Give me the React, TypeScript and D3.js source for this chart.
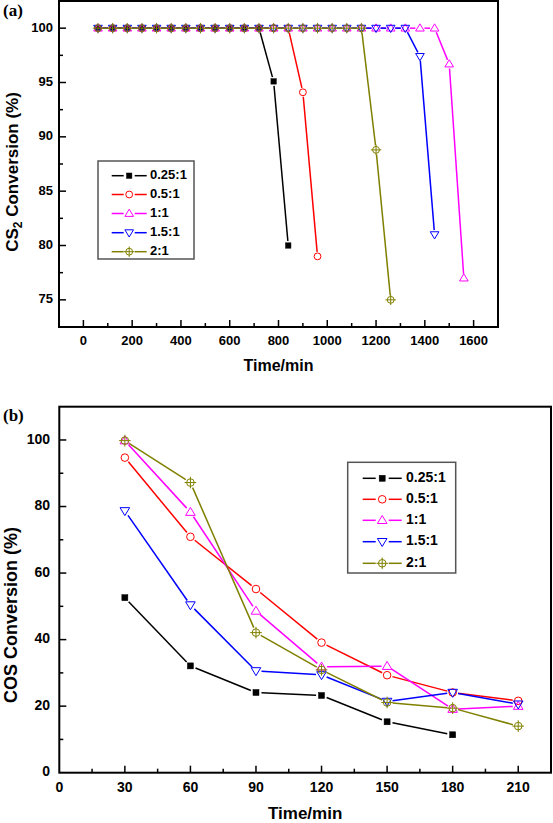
import React from "react";
import * as d3 from "d3";

// ---------- Data ----------
const seriesNames = ["0.25:1", "0.5:1", "1:1", "1.5:1", "2:1"];
const seriesColors = ["#000000", "#ff0000", "#ff00ff", "#0000ff", "#808000"];
const seriesMarkers = ["square", "circle", "triUp", "triDown", "circleCross"];

// (a) CS2 conversion vs time
const cs2Time = [60, 120, 180, 240, 300, 360, 420, 480, 540, 600, 660, 720, 780, 840, 900, 960, 1020, 1080, 1140, 1200, 1260, 1320, 1380, 1440, 1500, 1560];
const cs2_025 = [100, 100, 100, 100, 100, 100, 100, 100, 100, 100, 100, 100, 95.1, 80];
const cs2_05 = [100, 100, 100, 100, 100, 100, 100, 100, 100, 100, 100, 100, 100, 100, 94.1, 79];
const cs2_1 = [100, 100, 100, 100, 100, 100, 100, 100, 100, 100, 100, 100, 100, 100, 100, 100, 100, 100, 100, 100, 100, 100, 100, 100, 96.7, 77];
const cs2_15 = [100, 100, 100, 100, 100, 100, 100, 100, 100, 100, 100, 100, 100, 100, 100, 100, 100, 100, 100, 100, 100, 100, 97.4, 81];
const cs2_2 = [100, 100, 100, 100, 100, 100, 100, 100, 100, 100, 100, 100, 100, 100, 100, 100, 100, 100, 100, 88.8, 75];
const cs2XTicks = [0, 200, 400, 600, 800, 1000, 1200, 1400, 1600];
const cs2YTicks = [75, 80, 85, 90, 95, 100];

// (b) COS conversion vs time
const cosTime = [30, 60, 90, 120, 150, 180, 210];
const cos_025 = [52.6, 32.1, 24.1, 23.2, 15.3, 11.4];
const cos_05 = [94.7, 70.9, 55.2, 39.1, 29.3, 24.1, 21.6];
const cos_1 = [99.8, 78.3, 48.6, 31.8, 32.0, 19.1, 20.0];
const cos_15 = [78.7, 50.4, 30.6, 29.4, 21.4, 24.1, 20.6];
const cos_2 = [99.8, 87.2, 42.1, 30.9, 21.1, 19.4, 14.0];
const cosXTicks = [0, 30, 60, 90, 120, 150, 180, 210];
const cosYTicks = [0, 20, 40, 60, 80, 100];

const FONT = "'Liberation Sans', Arial, Helvetica, sans-serif";

type Marker = string;

function MarkerShape({ type, x, y, color, s }: { type: Marker; x: number; y: number; color: string; s: number }) {
  const sw = 1;
  if (type === "square") {
    return <rect x={x - s * 0.75} y={y - s * 0.75} width={s * 1.5} height={s * 1.5} fill={color} stroke={color} strokeWidth={0.5} />;
  }
  if (type === "circle") {
    return <circle cx={x} cy={y} r={s * 0.95} fill="none" stroke={color} strokeWidth={sw} />;
  }
  if (type === "triUp") {
    const h = s * 2.0;
    const w = s * 1.2;
    const p = `M${x - w},${y + h * 0.4} L${x + w},${y + h * 0.4} L${x},${y - h * 0.6} Z`;
    return <path d={p} fill="none" stroke={color} strokeWidth={sw} />;
  }
  if (type === "triDown") {
    const h = s * 2.0;
    const w = s * 1.2;
    const p = `M${x - w},${y - h * 0.4} L${x + w},${y - h * 0.4} L${x},${y + h * 0.6} Z`;
    return <path d={p} fill="none" stroke={color} strokeWidth={sw} />;
  }
  // circle with cross
  const r = s * 0.95;
  const c = s * 1.45;
  return (
    <g fill="none" stroke={color} strokeWidth={sw}>
      <circle cx={x} cy={y} r={r} />
      <line x1={x - c} y1={y} x2={x + c} y2={y} />
      <line x1={x} y1={y - c} x2={x} y2={y + c} />
    </g>
  );
}

function gapSegments(pts: [number, number][], gap: number) {
  const segs: [number, number, number, number][] = [];
  for (let i = 0; i < pts.length - 1; i++) {
    const [x1, y1] = pts[i];
    const [x2, y2] = pts[i + 1];
    const dx = x2 - x1;
    const dy = y2 - y1;
    const len = Math.hypot(dx, dy);
    if (len <= gap * 2) continue;
    const ux = dx / len;
    const uy = dy / len;
    segs.push([x1 + ux * gap, y1 + uy * gap, x2 - ux * gap, y2 - uy * gap]);
  }
  return segs;
}

interface ChartProps {
  left: number; right: number; top: number; bottom: number;
  xDomain: [number, number]; yDomain: [number, number];
  xTicks: number[]; yTicks: number[]; xMinorStep: number; yMinorStep: number;
  times: number[]; series: number[][];
  tickFont: number; yTickRight: number; xTickDy: number;
  titleFont: number; xTitleY: number; yTitleX: number; yTitleY: number;
  yTitle: React.ReactNode; yTitleFont: number;
  legend: { x: number; y: number; w: number; h: number; rowY: number[]; lineX1: number; lineX2: number; textX: number; font: number };
  markerSize: number; gap: number;
  panelLabel: string; panelY: number;
}

function Chart(p: ChartProps) {
  const x = d3.scaleLinear().domain(p.xDomain).range([p.left, p.right]);
  const y = d3.scaleLinear().domain(p.yDomain).range([p.bottom, p.top]);
  const xMinor = d3.range(Math.ceil(p.xDomain[0] / p.xMinorStep) * p.xMinorStep, p.xDomain[1] + 1e-9, p.xMinorStep).filter((v) => v > p.xDomain[0] && v < p.xDomain[1]);
  const yMinor = d3.range(Math.ceil(p.yDomain[0] / p.yMinorStep) * p.yMinorStep, p.yDomain[1] + 1e-9, p.yMinorStep).filter((v) => v > p.yDomain[0] && v < p.yDomain[1]);
  const majorLen = 7;
  const minorLen = 4;
  const lg = p.legend;
  const lmx = (lg.lineX1 + lg.lineX2) / 2;
  return (
    <g>
      <text x={3} y={p.panelY} fontFamily="'Liberation Serif', 'Times New Roman', serif" fontWeight="bold" fontSize={17} dominantBaseline="middle">{p.panelLabel}</text>
      {/* series */}
      {p.series.map((vals, si) => {
        const pts: [number, number][] = vals.map((v, i) => [x(p.times[i]), y(v)]);
        const segs = gapSegments(pts, p.gap);
        return (
          <g key={si}>
            {segs.map((s, k) => (
              <line key={k} x1={s[0]} y1={s[1]} x2={s[2]} y2={s[3]} stroke={seriesColors[si]} strokeWidth={1.5} />
            ))}
            {pts.map((pt, k) => (
              <MarkerShape key={k} type={seriesMarkers[si]} x={pt[0]} y={pt[1]} color={seriesColors[si]} s={p.markerSize} />
            ))}
          </g>
        );
      })}
      {/* frame */}
      <rect x={p.left} y={p.top} width={p.right - p.left} height={p.bottom - p.top} fill="none" stroke="#000" strokeWidth={2} />
      {/* x ticks */}
      {xMinor.map((v, i) => (
        <line key={"xm" + i} x1={x(v)} x2={x(v)} y1={p.bottom} y2={p.bottom - (p.xTicks.includes(v) ? majorLen : minorLen)} stroke="#000" strokeWidth={1.5} />
      ))}
      {p.xTicks.map((v, i) => (
        <text key={"xt" + i} x={x(v)} y={p.bottom + p.xTickDy} textAnchor="middle" dominantBaseline="middle" fontFamily={FONT} fontWeight="bold" fontSize={p.tickFont}>{v}</text>
      ))}
      {/* y ticks */}
      {yMinor.map((v, i) => (
        <line key={"ym" + i} x1={p.left} x2={p.left + (p.yTicks.includes(v) ? majorLen : minorLen)} y1={y(v)} y2={y(v)} stroke="#000" strokeWidth={1.5} />
      ))}
      {p.yTicks.map((v, i) => (
        <text key={"yt" + i} x={p.yTickRight} y={y(v)} textAnchor="end" dominantBaseline="middle" fontFamily={FONT} fontWeight="bold" fontSize={p.tickFont}>{v}</text>
      ))}
      {/* titles */}
      <text x={(p.left + p.right) / 2} y={p.xTitleY} textAnchor="middle" dominantBaseline="middle" fontFamily={FONT} fontWeight="bold" fontSize={p.titleFont}>Time/min</text>
      <text transform={`translate(${p.yTitleX},${p.yTitleY}) rotate(-90)`} textAnchor="middle" dominantBaseline="middle" fontFamily={FONT} fontWeight="bold" fontSize={p.yTitleFont}>{p.yTitle}</text>
      {/* legend */}
      <rect x={lg.x} y={lg.y} width={lg.w} height={lg.h} fill="#fff" stroke="#555" strokeWidth={1.5} />
      {seriesNames.map((name, i) => (
        <g key={"lg" + i}>
          <line x1={lg.lineX1} x2={lmx - p.gap - 1} y1={lg.rowY[i]} y2={lg.rowY[i]} stroke={seriesColors[i]} strokeWidth={1.5} />
          <line x1={lmx + p.gap + 1} x2={lg.lineX2} y1={lg.rowY[i]} y2={lg.rowY[i]} stroke={seriesColors[i]} strokeWidth={1.5} />
          <MarkerShape type={seriesMarkers[i]} x={lmx} y={lg.rowY[i]} color={seriesColors[i]} s={p.markerSize} />
          <text x={lg.textX} y={lg.rowY[i]} dominantBaseline="middle" fontFamily={FONT} fontWeight="bold" fontSize={lg.font}>{name}</text>
        </g>
      ))}
    </g>
  );
}

export default function App() {
  return (
    <svg width={553} height={823} style={{ position: "absolute", left: 0, top: 0, background: "#fff" }}>
      <Chart
        left={59} right={498} top={1} bottom={327}
        xDomain={[-100, 1700]} yDomain={[72.5, 102.5]}
        xTicks={cs2XTicks} yTicks={cs2YTicks} xMinorStep={100} yMinorStep={2.5}
        times={cs2Time} series={[cs2_025, cs2_05, cs2_1, cs2_15, cs2_2]}
        tickFont={13} yTickRight={53} xTickDy={15}
        titleFont={16} xTitleY={367} yTitleX={14} yTitleY={172} yTitleFont={17}
        yTitle={<>{"CS"}<tspan fontSize={12} dy={5}>2</tspan><tspan dy={-5}>{" Conversion (%)"}</tspan></>}
        legend={{ x: 98, y: 161, w: 96, h: 98, rowY: [175.7, 194.5, 213.5, 232.7, 251.7], lineX1: 111.7, lineX2: 146.7, textX: 150, font: 13 }}
        markerSize={3.6} gap={4.5}
        panelLabel="(a)" panelY={12}
      />
      <Chart
        left={59.3} right={551} top={406.7} bottom={772.7}
        xDomain={[0, 225]} yDomain={[0, 110]}
        xTicks={cosXTicks} yTicks={cosYTicks} xMinorStep={15} yMinorStep={10}
        times={cosTime} series={[cos_025, cos_05, cos_1, cos_15, cos_2]}
        tickFont={14} yTickRight={50} xTickDy={16}
        titleFont={17} xTitleY={815} yTitleX={12} yTitleY={615} yTitleFont={18}
        yTitle={"COS Conversion (%)"}
        legend={{ x: 347.7, y: 462.3, w: 108, h: 110.7, rowY: [478.3, 499.3, 520.3, 541.7, 563.3], lineX1: 362.7, lineX2: 401.7, textX: 406, font: 14 }}
        markerSize={4} gap={5.5}
        panelLabel="(b)" panelY={416.7}
      />
    </svg>
  );
}
